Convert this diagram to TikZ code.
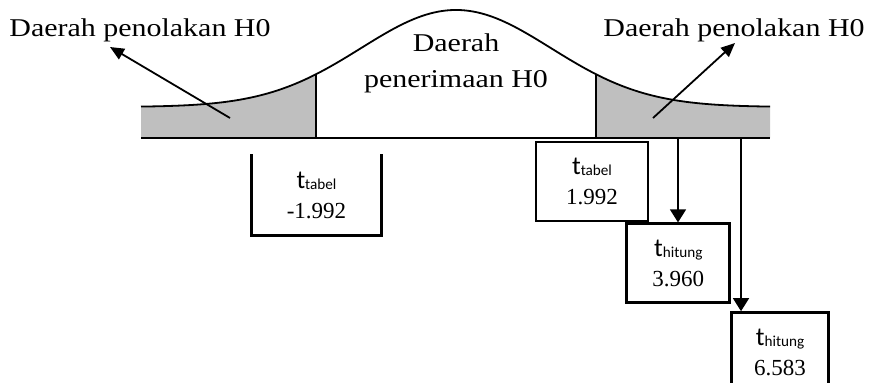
\documentclass[tikz,border=0pt]{standalone}
\usepackage{fontspec}
\setmainfont{Liberation Serif}
\newfontfamily\calfont{Carlito}
\usetikzlibrary{arrows.meta}
\newcommand{\tsub}[1]{{\calfont\fontsize{13}{15}\selectfont t\raisebox{-0.6pt}{\fontsize{7.6}{9}\selectfont #1}}}
\newcommand{\wide}[1]{\scalebox{1.17}[1]{#1}}

\begin{document}
\begin{tikzpicture}[x=0.5pt,y=-0.5pt]

\tikzstyle{lbl} = [font=\fontsize{12.8}{15}\selectfont, inner sep=0pt]

\tikzstyle{val} = [rectangle, minimum height=39.5pt, inner sep=0pt, align=center, font=\fontsize{11.5}{13}\selectfont, line width=1.4pt]

\tikzstyle{tip} = [line width=0.9pt, -{Triangle[length=7pt,width=6pt]}]

\tikzstyle{drop} = [line width=0.7pt, -{Triangle[length=6.5pt,width=8pt]}]

    \useasboundingbox (0,0) rectangle (870,383);
    \clip (0,0) rectangle (870,383);

    \fill [gray!50] (141,138) -- plot [domain=141:316,samples=40] (\x,{107-97*exp(-0.5*((\x-456)/95)^2)}) -- (316,138) -- cycle;
    \fill [gray!50] (596,138) -- plot [domain=596:770,samples=40] (\x,{107-97*exp(-0.5*((\x-456)/95)^2)}) -- (770,138) -- cycle;
    \draw [line width=0.9pt] plot [domain=141:770,samples=160] (\x,{107-97*exp(-0.5*((\x-456)/95)^2)});
    \draw [line width=0.9pt] (316,74) -- (316,138);
    \draw [line width=0.9pt] (596,74) -- (596,138);
    \draw [line width=1.1pt] (141,138) -- (770,138);

    \node [lbl,anchor=base] (pl) at (140,37) {\wide{Daerah penolakan H0}};
    \node [lbl,anchor=base] (pr) at (734,37) {\wide{Daerah penolakan H0}};
    \node [lbl,align=center,anchor=base] (pt) at (456,88) {\wide{Daerah}\\[3pt]\wide{penerimaan H0}};

    \coordinate (la) at (230,118);
    \coordinate (lt) at (110,47);
    \coordinate (ra) at (653,118);
    \coordinate (rt) at (735,43);
    \draw [tip] (la) -- (lt);
    \draw [tip] (ra) -- (rt);

    \node [val,minimum width=63.5pt] (b0) at (316.5,195) {\tsub{tabel}\\[2pt]-1.992};
    \draw [line width=1.4pt] (b0.north west) -- (b0.south west) -- (b0.south east) -- (b0.north east);
    \node [val,draw,minimum width=56pt] (b1) at (592,181.5) {\tsub{tabel}\\[2pt]1.992};
    \path (b1.south east) ++(-24,0) node [val,draw,minimum width=51.5pt,anchor=north west] (h1) {\tsub{hitung}\\[2pt]3.960};
    \path (h1.south east) ++(-1,7) node [val,draw,minimum width=48.5pt,anchor=north west] (h2) {\tsub{hitung}\\[2pt]6.583};

    \coordinate (s1) at (678,138);
    \coordinate (s2) at (741,138);
    \draw [drop] (s1) -- (s1 |- h1.north);
    \draw [drop] (s2) -- (s2 |- h2.north);

\end{tikzpicture}
\end{document}
